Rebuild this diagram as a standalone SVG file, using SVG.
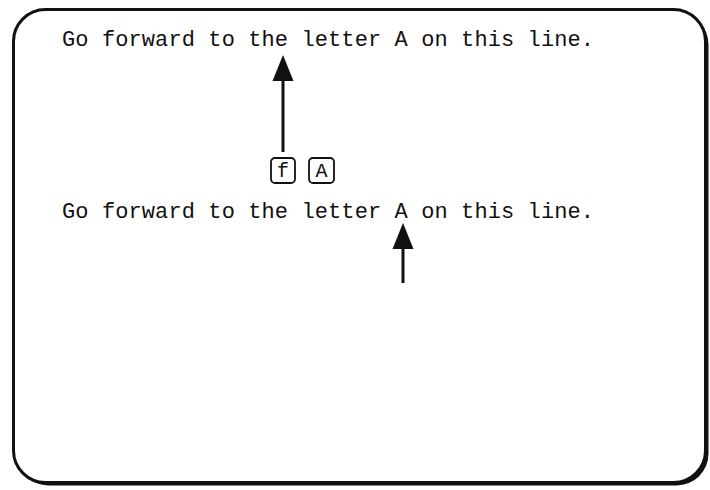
<svg xmlns="http://www.w3.org/2000/svg" width="710" height="490" viewBox="0 0 710 490">
<style>
.t{font-family:"Liberation Mono","Courier New",monospace;font-size:22px;fill:#111}
.k{font-family:"Liberation Mono","Courier New",monospace;font-size:20px;fill:#111}
.key{fill:#fff;stroke:#111;stroke-width:1.8}
.shaft{stroke:#111;stroke-width:3;fill:none}
.head{fill:#111}
</style>
<g id="frame">
<rect x="16.5" y="12.5" width="692" height="473" rx="32" fill="#111"/>
<rect x="13.5" y="9.5" width="692" height="473" rx="32" fill="#fff" stroke="#111" stroke-width="3"/>
</g>
<g id="line1"><text class="t" x="62" y="46" textLength="532" lengthAdjust="spacing">Go forward to the letter A on this line.</text></g>
<g id="line2"><text class="t" x="62" y="218" textLength="532" lengthAdjust="spacing">Go forward to the letter A on this line.</text></g>
<g id="key-f"><rect class="key" x="271" y="158" width="24" height="25" rx="4"/><text class="k" x="283" y="177" text-anchor="middle">f</text></g>
<g id="key-A"><rect class="key" x="309" y="158" width="25" height="25" rx="4"/><text class="k" x="321.5" y="177" text-anchor="middle">A</text></g>
<g id="connectors">
<line class="shaft" x1="283" y1="78" x2="283" y2="152"/>
<polygon class="head" points="283,55 272.5,81 293.5,81"/>
<line class="shaft" x1="403" y1="246" x2="403" y2="283"/>
<polygon class="head" points="403,223 392.5,249 413.5,249"/>
</g>
</svg>
